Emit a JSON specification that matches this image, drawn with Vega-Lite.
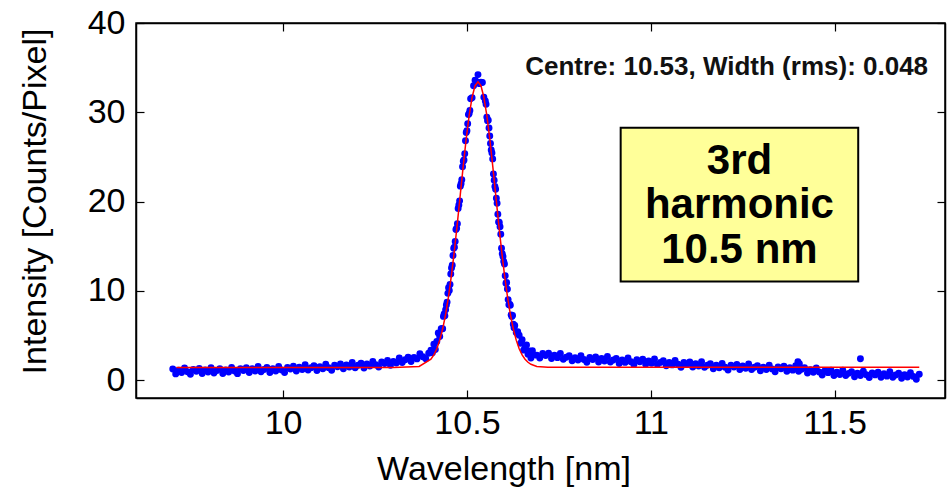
{
"$schema": "https://vega.github.io/schema/vega-lite/v6.json",
"width": 809, "height": 375,
"autosize": {"type": "none"},
"padding": {"left": 136, "top": 23, "right": 6, "bottom": 101},
"background": "white",
"config": {
  "view": {"stroke": "#000", "strokeWidth": 1.5},
  "axis": {"grid": false, "domainColor": "#000", "domainWidth": 1.5, "tickColor": "#000", "tickWidth": 1.2, "tickSize": -8,
    "labelFont": "Liberation Sans", "labelFontSize": 34, "labelColor": "#000",
    "titleFont": "Liberation Sans", "titleFontSize": 34, "titleFontWeight": "normal", "titleColor": "#000"}
},
"datasets": {
  "blue": [
    {"x":9.700,"y":1.25},{"x":9.708,"y":0.70},{"x":9.716,"y":1.10},{"x":9.724,"y":0.85},{"x":9.732,"y":1.35},{"x":9.740,"y":0.95},{"x":9.748,"y":0.65},{"x":9.756,"y":1.20},
    {"x":9.764,"y":1.00},{"x":9.772,"y":1.30},{"x":9.780,"y":0.75},{"x":9.788,"y":1.15},{"x":9.796,"y":0.90},{"x":9.804,"y":1.40},{"x":9.812,"y":0.81},{"x":9.820,"y":1.07},
    {"x":9.828,"y":1.28},{"x":9.836,"y":0.74},{"x":9.844,"y":1.14},{"x":9.852,"y":0.90},{"x":9.860,"y":1.41},{"x":9.868,"y":1.02},{"x":9.876,"y":0.73},{"x":9.884,"y":1.28},
    {"x":9.892,"y":1.09},{"x":9.900,"y":1.40},{"x":9.908,"y":0.86},{"x":9.916,"y":1.27},{"x":9.924,"y":1.02},{"x":9.932,"y":1.53},{"x":9.940,"y":0.94},{"x":9.948,"y":1.20},
    {"x":9.956,"y":1.41},{"x":9.964,"y":0.86},{"x":9.972,"y":1.27},{"x":9.980,"y":1.03},{"x":9.988,"y":1.54},{"x":9.996,"y":1.15},{"x":10.004,"y":0.86},{"x":10.012,"y":1.42},
    {"x":10.020,"y":1.24},{"x":10.028,"y":1.56},{"x":10.036,"y":1.02},{"x":10.044,"y":1.44},{"x":10.052,"y":1.20},{"x":10.060,"y":1.72},{"x":10.068,"y":1.14},{"x":10.076,"y":1.40},
    {"x":10.084,"y":1.62},{"x":10.092,"y":1.08},{"x":10.100,"y":1.50},{"x":10.108,"y":1.27},{"x":10.116,"y":1.78},{"x":10.124,"y":1.40},{"x":10.132,"y":1.11},{"x":10.140,"y":1.68},
    {"x":10.148,"y":1.50},{"x":10.156,"y":1.81},{"x":10.164,"y":1.28},{"x":10.172,"y":1.69},{"x":10.180,"y":1.46},{"x":10.188,"y":1.98},{"x":10.196,"y":1.39},{"x":10.204,"y":1.66},
    {"x":10.212,"y":1.89},{"x":10.220,"y":1.37},{"x":10.228,"y":1.80},{"x":10.236,"y":1.58},{"x":10.244,"y":2.10},{"x":10.252,"y":1.73},{"x":10.260,"y":1.46},{"x":10.268,"y":2.04},
    {"x":10.276,"y":1.87},{"x":10.284,"y":2.19},{"x":10.292,"y":1.67},{"x":10.300,"y":2.10},{"x":10.308,"y":1.92},{"x":10.316,"y":2.49},{"x":10.324,"y":1.97},{"x":10.332,"y":2.29},
    {"x":10.340,"y":2.56},{"x":10.348,"y":2.08},{"x":10.356,"y":2.55},{"x":10.364,"y":2.38},{"x":10.372,"y":2.95},{"x":10.380,"y":2.62},{"x":10.388,"y":2.39},{"x":10.396,"y":3.01},
    {"x":10.402,"y":3.34},{"x":10.406,"y":3.06},{"x":10.410,"y":4.02},{"x":10.414,"y":3.44},{"x":10.418,"y":4.32},{"x":10.422,"y":5.27},{"x":10.426,"y":4.88},{"x":10.430,"y":5.77},
    {"x":10.434,"y":5.75},{"x":10.438,"y":7.42},{"x":10.442,"y":7.88},{"x":10.446,"y":8.74},{"x":10.450,"y":10.35},{"x":10.454,"y":10.71},{"x":10.458,"y":12.56},{"x":10.462,"y":13.95},
    {"x":10.466,"y":14.88},{"x":10.470,"y":16.87},{"x":10.474,"y":17.52},{"x":10.478,"y":19.62},{"x":10.482,"y":21.73},{"x":10.486,"y":22.44},{"x":10.490,"y":24.53},{"x":10.494,"y":25.37},
    {"x":10.498,"y":27.74},{"x":10.502,"y":28.72},{"x":10.506,"y":29.86},{"x":10.510,"y":31.51},{"x":10.514,"y":31.64},{"x":10.518,"y":32.98},{"x":10.522,"y":33.58},{"x":10.526,"y":33.41},
    {"x":10.530,"y":34.22},{"x":10.534,"y":33.21},{"x":10.538,"y":33.38},{"x":10.542,"y":33.33},{"x":10.546,"y":31.69},{"x":10.550,"y":31.26},{"x":10.554,"y":29.46},{"x":10.558,"y":29.12},
    {"x":10.562,"y":27.34},{"x":10.566,"y":25.77},{"x":10.570,"y":24.78},{"x":10.574,"y":22.39},{"x":10.578,"y":21.38},{"x":10.582,"y":19.82},{"x":10.586,"y":17.72},{"x":10.590,"y":17.17},
    {"x":10.594,"y":14.78},{"x":10.598,"y":13.85},{"x":10.602,"y":13.01},{"x":10.606,"y":10.86},{"x":10.610,"y":10.20},{"x":10.614,"y":8.44},{"x":10.618,"y":8.38},{"x":10.622,"y":7.12},
    {"x":10.626,"y":6.25},{"x":10.630,"y":6.12},{"x":10.634,"y":5.33},{"x":10.638,"y":5.42},{"x":10.642,"y":5.02},{"x":10.646,"y":4.14},{"x":10.650,"y":4.52},{"x":10.654,"y":3.36},
    {"x":10.658,"y":3.64},{"x":10.662,"y":3.95},{"x":10.666,"y":2.90},{"x":10.670,"y":3.27},{"x":10.674,"y":2.48},{"x":10.678,"y":3.30},{"x":10.682,"y":2.83},
    {"x":10.508,"y":30.21},{"x":10.504,"y":29.74},{"x":10.500,"y":27.93},{"x":10.496,"y":26.81},{"x":10.492,"y":24.65},{"x":10.488,"y":23.89},{"x":10.484,"y":21.99},{"x":10.480,"y":20.08},
    {"x":10.476,"y":19.22},{"x":10.472,"y":17.00},{"x":10.468,"y":15.53},{"x":10.464,"y":14.77},{"x":10.460,"y":12.88},{"x":10.456,"y":11.89},{"x":10.452,"y":10.03},{"x":10.448,"y":9.72},
    {"x":10.444,"y":8.41},{"x":10.440,"y":7.20},{"x":10.436,"y":7.14},{"x":10.432,"y":5.76},
    {"x":10.552,"y":30.91},{"x":10.556,"y":29.04},{"x":10.560,"y":28.23},{"x":10.564,"y":26.51},{"x":10.568,"y":25.45},{"x":10.572,"y":23.09},{"x":10.576,"y":21.69},{"x":10.580,"y":20.38},
    {"x":10.584,"y":18.57},{"x":10.588,"y":17.65},{"x":10.592,"y":16.33},{"x":10.596,"y":14.17},{"x":10.600,"y":13.28},{"x":10.604,"y":11.69},{"x":10.608,"y":10.93},{"x":10.612,"y":9.02},
    {"x":10.616,"y":8.51},{"x":10.620,"y":7.30},{"x":10.624,"y":7.24},{"x":10.628,"y":5.86},
    {"x":10.690,"y":2.80},{"x":10.698,"y":2.47},{"x":10.706,"y":2.98},{"x":10.714,"y":2.75},{"x":10.722,"y":3.02},{"x":10.730,"y":2.43},{"x":10.738,"y":2.80},{"x":10.746,"y":2.52},
    {"x":10.754,"y":2.98},{"x":10.762,"y":2.35},{"x":10.770,"y":2.57},{"x":10.778,"y":2.74},{"x":10.786,"y":2.16},{"x":10.794,"y":2.52},{"x":10.802,"y":2.25},{"x":10.810,"y":2.73},
    {"x":10.818,"y":2.31},{"x":10.826,"y":2.00},{"x":10.834,"y":2.53},{"x":10.842,"y":2.32},{"x":10.850,"y":2.60},{"x":10.858,"y":2.03},{"x":10.866,"y":2.42},{"x":10.874,"y":2.15},
    {"x":10.882,"y":2.64},{"x":10.890,"y":2.02},{"x":10.898,"y":2.25},{"x":10.906,"y":2.44},{"x":10.914,"y":1.87},{"x":10.922,"y":2.26},{"x":10.930,"y":1.99},{"x":10.938,"y":2.47},
    {"x":10.946,"y":2.06},{"x":10.954,"y":1.74},{"x":10.962,"y":2.28},{"x":10.970,"y":2.06},{"x":10.978,"y":2.34},{"x":10.986,"y":1.78},{"x":10.994,"y":2.16},{"x":11.002,"y":1.90},
    {"x":11.010,"y":2.38},{"x":11.018,"y":1.76},{"x":11.026,"y":1.99},{"x":11.034,"y":2.17},{"x":11.042,"y":1.60},{"x":11.050,"y":1.98},{"x":11.058,"y":1.71},{"x":11.066,"y":2.19},
    {"x":11.074,"y":1.77},{"x":11.082,"y":1.45},{"x":11.090,"y":1.98},{"x":11.098,"y":1.76},{"x":11.106,"y":2.04},{"x":11.114,"y":1.47},{"x":11.122,"y":1.85},{"x":11.130,"y":1.58},
    {"x":11.138,"y":2.06},{"x":11.146,"y":1.44},{"x":11.154,"y":1.67},{"x":11.162,"y":1.85},{"x":11.170,"y":1.28},{"x":11.178,"y":1.66},{"x":11.186,"y":1.39},{"x":11.194,"y":1.87},
    {"x":11.202,"y":1.45},{"x":11.210,"y":1.14},{"x":11.218,"y":1.68},{"x":11.226,"y":1.47},{"x":11.234,"y":1.76},{"x":11.242,"y":1.20},{"x":11.250,"y":1.58},{"x":11.258,"y":1.32},
    {"x":11.266,"y":1.81},{"x":11.274,"y":1.20},{"x":11.282,"y":1.44},{"x":11.290,"y":1.62},{"x":11.298,"y":1.06},{"x":11.306,"y":1.44},{"x":11.314,"y":1.18},{"x":11.322,"y":1.67},
    {"x":11.330,"y":1.26},{"x":11.338,"y":0.95},{"x":11.346,"y":1.48},{"x":11.354,"y":1.27},{"x":11.362,"y":1.56},{"x":11.370,"y":1.00},{"x":11.378,"y":1.38},{"x":11.386,"y":1.12},
    {"x":11.394,"y":1.61},{"x":11.402,"y":0.99},{"x":11.410,"y":1.21},{"x":11.418,"y":1.38},{"x":11.426,"y":0.80},{"x":11.434,"y":1.16},{"x":11.442,"y":0.88},{"x":11.450,"y":1.35},
    {"x":11.458,"y":0.91},{"x":11.466,"y":0.57},{"x":11.474,"y":1.08},{"x":11.482,"y":0.84},{"x":11.490,"y":1.10},{"x":11.498,"y":0.51},{"x":11.506,"y":0.89},{"x":11.514,"y":0.63},
    {"x":11.522,"y":1.12},{"x":11.530,"y":0.51},{"x":11.538,"y":0.76},{"x":11.546,"y":0.95},{"x":11.554,"y":0.39},{"x":11.562,"y":0.78},{"x":11.570,"y":0.52},{"x":11.578,"y":1.01},
    {"x":11.586,"y":0.60},{"x":11.594,"y":0.29},{"x":11.602,"y":0.80},{"x":11.610,"y":0.59},{"x":11.618,"y":0.88},{"x":11.626,"y":0.32},{"x":11.634,"y":0.71},{"x":11.642,"y":0.45},
    {"x":11.650,"y":0.94},{"x":11.658,"y":0.33},{"x":11.666,"y":0.57},{"x":11.674,"y":0.77},{"x":11.682,"y":0.21},{"x":11.690,"y":0.60},{"x":11.698,"y":0.34},{"x":11.706,"y":0.83},
    {"x":11.714,"y":0.42},{"x":11.722,"y":0.11},{"x":11.730,"y":0.65},
    {"x":11.400,"y":2.05},{"x":11.404,"y":1.85},{"x":11.570,"y":2.40}
  ],
  "red": [
    {"x":9.71,"y":1.42},{"x":10.30,"y":1.42},{"x":10.37,"y":1.54},{"x":10.402,"y":2.34},{"x":10.41,"y":2.82},{"x":10.418,"y":3.52},{"x":10.426,"y":4.48},
    {"x":10.434,"y":5.75},{"x":10.442,"y":7.38},{"x":10.45,"y":9.40},{"x":10.458,"y":11.81},{"x":10.466,"y":14.58},{"x":10.474,"y":17.62},{"x":10.482,"y":20.83},
    {"x":10.49,"y":24.03},{"x":10.498,"y":27.04},{"x":10.506,"y":29.66},{"x":10.514,"y":31.69},{"x":10.522,"y":32.98},{"x":10.53,"y":33.42},{"x":10.538,"y":32.98},
    {"x":10.546,"y":31.69},{"x":10.554,"y":29.66},{"x":10.562,"y":27.04},{"x":10.57,"y":24.03},{"x":10.578,"y":20.83},{"x":10.586,"y":17.62},{"x":10.594,"y":14.58},
    {"x":10.602,"y":11.81},{"x":10.61,"y":9.40},{"x":10.618,"y":7.38},{"x":10.626,"y":5.75},{"x":10.634,"y":4.48},{"x":10.642,"y":3.52},{"x":10.65,"y":2.82},
    {"x":10.658,"y":2.34},{"x":10.666,"y":2.00},{"x":10.674,"y":1.78},{"x":10.69,"y":1.54},{"x":10.72,"y":1.45},{"x":11.73,"y":1.45}
  ],
  "centre": [{"x": 11.754, "y": 34.13, "label": "Centre: 10.53, Width (rms): 0.048"}],
  "box": [{"x": 10.918, "x2": 11.564, "y": 11.06, "y2": 28.27, "xc": 11.241, "yt": 23.14, "label": "3rd\nharmonic\n10.5 nm"}]
},
"layer": [
  {
    "data": {"name": "blue"},
    "mark": {"type": "point", "filled": true, "shape": "circle", "size": 48, "color": "#0000FF", "opacity": 1},
    "encoding": {
      "x": {"field": "x", "type": "quantitative", "scale": {"domain": [9.6, 11.8], "nice": false, "zero": false},
        "axis": {"orient": "bottom", "values": [10, 10.5, 11, 11.5], "format": "~g", "labelPadding": 16, "title": "Wavelength [nm]", "titlePadding": 12, "titleX": 367.5}},
      "y": {"field": "y", "type": "quantitative", "scale": {"domain": [-2, 40], "nice": false, "zero": false},
        "axis": {"orient": "left", "values": [0, 10, 20, 30, 40], "format": "d", "labelPadding": 19, "title": "Intensity [Counts/Pixel]", "titlePadding": 35, "titleY": 178}}
    }
  },
  {
    "data": {"name": "red"},
    "mark": {"type": "line", "color": "#FF0000", "strokeWidth": 1.5},
    "encoding": {
      "x": {"field": "x", "type": "quantitative", "scale": {"domain": [9.6, 11.8], "nice": false, "zero": false},
        "axis": {"orient": "top", "values": [10, 10.5, 11, 11.5], "labels": false, "title": null}},
      "y": {"field": "y", "type": "quantitative", "scale": {"domain": [-2, 40], "nice": false, "zero": false},
        "axis": {"orient": "right", "values": [0, 10, 20, 30, 40], "labels": false, "title": null}}
    }
  },
  {
    "data": {"name": "box"},
    "mark": {"type": "rect", "fill": "#FFFF99", "stroke": "#000", "strokeWidth": 2},
    "encoding": {
      "x": {"field": "x", "type": "quantitative", "scale": {"domain": [9.6, 11.8], "nice": false, "zero": false}, "axis": null},
      "x2": {"field": "x2"},
      "y": {"field": "y", "type": "quantitative", "scale": {"domain": [-2, 40], "nice": false, "zero": false}, "axis": null},
      "y2": {"field": "y2"}
    }
  },
  {
    "data": {"name": "box"},
    "mark": {"type": "text", "font": "Liberation Sans", "fontWeight": "bold", "fontSize": 42, "align": "center", "baseline": "alphabetic", "lineBreak": "\n", "lineHeight": 44.5, "color": "#000"},
    "encoding": {
      "x": {"field": "xc", "type": "quantitative", "scale": {"domain": [9.6, 11.8], "nice": false, "zero": false}, "axis": null},
      "y": {"field": "yt", "type": "quantitative", "scale": {"domain": [-2, 40], "nice": false, "zero": false}, "axis": null},
      "text": {"field": "label"}
    }
  },
  {
    "data": {"name": "centre"},
    "mark": {"type": "text", "font": "Liberation Sans", "fontWeight": "bold", "fontSize": 26, "align": "right", "baseline": "alphabetic", "color": "#111"},
    "encoding": {
      "x": {"field": "x", "type": "quantitative", "scale": {"domain": [9.6, 11.8], "nice": false, "zero": false}, "axis": null},
      "y": {"field": "y", "type": "quantitative", "scale": {"domain": [-2, 40], "nice": false, "zero": false}, "axis": null},
      "text": {"field": "label"}
    }
  }
],
"resolve": {"axis": {"x": "independent", "y": "independent"}}
}
